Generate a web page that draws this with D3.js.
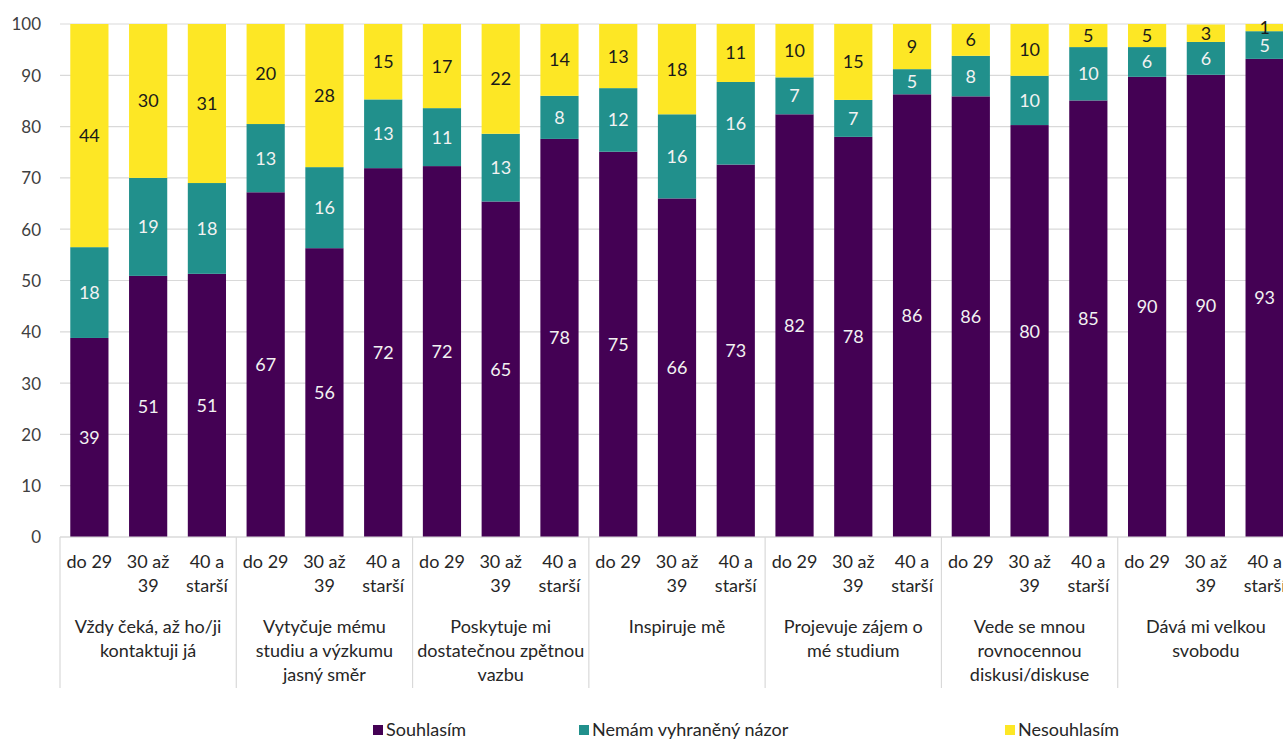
<!DOCTYPE html>
<html><head><meta charset="utf-8">
<script src="https://cdn.jsdelivr.net/npm/d3@7"></script>
<style>body{margin:0;background:#fff;overflow:hidden}text{font-family:Lato,"Open Sans",sans-serif}</style>
</head><body><svg id="c" width="1283" height="740"></svg>
<script>
const groups = ["Vždy čeká, až ho/ji kontaktuji já","Vytyčuje mému studiu a výzkumu jasný směr","Poskytuje mi dostatečnou zpětnou vazbu","Inspiruje mě","Projevuje zájem o mé studium","Vede se mnou rovnocennou diskusi/diskuse","Dává mi velkou svobodu"];
const groupLines = [["Vždy čeká, až ho/ji","kontaktuji já"],["Vytyčuje mému","studiu a výzkumu","jasný směr"],["Poskytuje mi","dostatečnou zpětnou","vazbu"],["Inspiruje mě"],["Projevuje zájem o","mé studium"],["Vede se mnou","rovnocennou","diskusi/diskuse"],["Dává mi velkou","svobodu"]];
const ages = ["do 29","30 až 39","40 a starší"];
const ageLines = [["do 29"],["30 až","39"],["40 a","starší"]];
const seriesNames = ["Souhlasím","Nemám vyhraněný názor","Nesouhlasím"];
const colors = ["#440154","#21908C","#FDE725"];
const souhlasim = [38.8,50.9,51.3, 67.2,56.3,71.9, 72.3,65.4,77.6, 75.1,66.0,72.6, 82.4,78.0,86.3, 85.9,80.3,85.1, 89.7,90.1,93.2];
const nemam = [17.7,19.1,17.7, 13.3,15.8,13.4, 11.3,13.2,8.4, 12.4,16.4,16.1, 7.2,7.2,4.9, 7.9,9.6,10.4, 5.8,6.4,5.4];
const nesouhlasim = [43.5,30.0,31.0, 19.5,27.9,14.7, 16.6,21.6,14.0, 12.6,17.6,11.3, 10.4,14.8,8.8, 6.2,10.1,4.6, 4.6,3.4,1.4];
const yTicks = [0,10,20,30,40,50,60,70,80,90,100];

const svg = d3.select("#c");
const L = 60, R = 1294, T = 24, B = 537;
const FS = 18;
const rows = [];
groups.forEach((g,gi)=>ages.forEach((a,ai)=>{const i=gi*3+ai;rows.push({key:g+"|"+a,gi,ai,vals:[souhlasim[i],nemam[i],nesouhlasim[i]]});}));
const y = d3.scaleLinear().domain([0,100]).range([B,T]);
const xg = d3.scaleBand().domain(groups).range([L,R]).padding(0);
const xc = d3.scaleBand().domain(ages).range([0,xg.bandwidth()]).paddingInner(0.35).paddingOuter(0.175);

// gridlines
svg.append("g").selectAll("line").data(yTicks).join("line")
  .attr("x1",L).attr("x2",R).attr("y1",d=>y(d)).attr("y2",d=>y(d))
  .attr("stroke","#d9d9d9").attr("stroke-width",1.2);
// y axis labels
const yAxis = d3.axisLeft(y).tickValues(yTicks).tickSize(0).tickPadding(0);
const ya = svg.append("g").attr("transform",`translate(${L-19},0)`).call(yAxis);
ya.select(".domain").remove();
ya.selectAll("text").attr("font-size",17).attr("fill","#404040").attr("font-family","Lato,sans-serif").attr("dy","0.35em");

// bars
const stack = d3.stack().keys([0,1,2]).value((d,k)=>d.vals[k]);
const stacked = stack(rows);
const clip = v=>Math.min(100,v);
stacked.forEach((layer,k)=>{
  const g = svg.append("g");
  g.selectAll("rect").data(layer).join("rect")
    .attr("x",d=>xg(groups[d.data.gi])+xc(ages[d.data.ai]))
    .attr("width",xc.bandwidth())
    .attr("y",d=>y(clip(d[1])))
    .attr("height",d=>y(clip(d[0]))-y(clip(d[1])))
    .attr("fill",colors[k]);
  g.selectAll("text").data(layer).join("text")
    .attr("x",d=>xg(groups[d.data.gi])+xc(ages[d.data.ai])+xc.bandwidth()/2)
    .attr("y",d=>(y(clip(d[0]))+y(clip(d[1])))/2)
    .attr("dy","0.36em").attr("text-anchor","middle").attr("font-size",FS)
    .attr("fill",k===2?"#1a1a1a":"#f2f2f2")
    .text(d=>Math.round(d.data.vals[k]));
});

// x axis baseline
svg.append("line").attr("x1",L).attr("x2",R).attr("y1",B).attr("y2",B).attr("stroke","#d9d9d9").attr("stroke-width",1.2);
// group separators
const seps = groups.map(g=>xg(g)).concat([R]);
svg.append("g").selectAll("line").data(seps).join("line")
  .attr("x1",d=>d).attr("x2",d=>d).attr("y1",B).attr("y2",688)
  .attr("stroke","#d9d9d9").attr("stroke-width",1.2);
// category labels
const cl = svg.append("g");
rows.forEach(r=>{
  const cx = xg(groups[r.gi])+xc(ages[r.ai])+xc.bandwidth()/2;
  ageLines[r.ai].forEach((t,li)=>{
    cl.append("text").attr("x",cx).attr("y",562+li*23.5).attr("dy","0.35em")
      .attr("text-anchor","middle").attr("font-size",FS).attr("fill","#262626").text(t);
  });
});
// group labels
groups.forEach((g,gi)=>{
  const cx = xg(g)+xg.bandwidth()/2;
  groupLines[gi].forEach((t,li)=>{
    cl.append("text").attr("x",cx).attr("y",627+li*24).attr("dy","0.35em")
      .attr("text-anchor","middle").attr("font-size",FS).attr("fill","#262626").text(t);
  });
});
// legend
const legX = [373,579,1005];
const lg = svg.append("g");
seriesNames.forEach((n,i)=>{
  lg.append("rect").attr("x",legX[i]).attr("y",725).attr("width",10).attr("height",10).attr("fill",colors[i]);
  lg.append("text").attr("x",legX[i]+13).attr("y",730).attr("dy","0.35em").attr("font-size",FS).attr("fill","#262626").text(n);
});
</script></body></html>
